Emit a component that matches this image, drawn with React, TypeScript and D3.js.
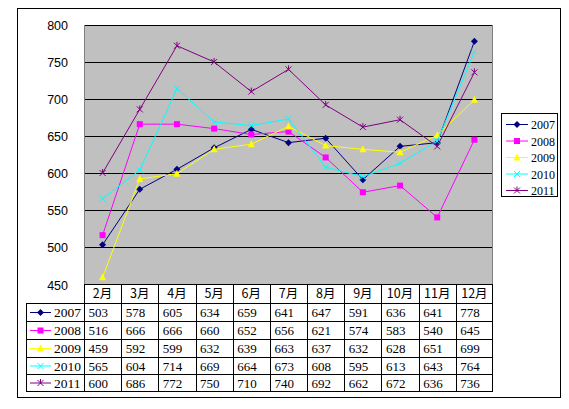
import React from "react";
import * as d3 from "d3";

const months = ["2月", "3月", "4月", "5月", "6月", "7月", "8月", "9月", "10月", "11月", "12月"];
const seriesNames = ["2007", "2008", "2009", "2010", "2011"];
const s2007 = [503, 578, 605, 634, 659, 641, 647, 591, 636, 641, 778];
const s2008 = [516, 666, 666, 660, 652, 656, 621, 574, 583, 540, 645];
const s2009 = [459, 592, 599, 632, 639, 663, 637, 632, 628, 651, 699];
const s2010 = [565, 604, 714, 669, 664, 673, 608, 595, 613, 643, 764];
const s2011 = [600, 686, 772, 750, 710, 740, 692, 662, 672, 636, 736];
const yTicks = [450, 500, 550, 600, 650, 700, 750, 800];

const seriesValues = [s2007, s2008, s2009, s2010, s2011];
const colors = ["#000080", "#FF00FF", "#FFFF00", "#00FFFF", "#800080"];
const markerTypes = ["diamond", "square", "triangle", "x", "star"];

const PL = 84, PR = 493, PT = 25, PB = 284;
const TL = 26;
const rowTops = [303, 321, 339, 357, 374, 391];

function Marker({ type, x, y, color }: { type: string; x: number; y: number; color: string }) {
  if (type === "diamond") {
    return <path d={`M${x},${y - 3.5}L${x + 3.5},${y}L${x},${y + 3.5}L${x - 3.5},${y}Z`} fill={color} />;
  }
  if (type === "square") {
    return <rect x={x - 3} y={y - 3} width={6} height={6} fill={color} />;
  }
  if (type === "triangle") {
    return <path d={`M${x},${y - 4}L${x + 3.5},${y + 3}L${x - 3.5},${y + 3}Z`} fill={color} />;
  }
  if (type === "x") {
    return (
      <path d={`M${x - 3},${y - 3}L${x + 3},${y + 3}M${x - 3},${y + 3}L${x + 3},${y - 3}`} stroke={color} strokeWidth={1} fill="none" />
    );
  }
  return (
    <path
      d={`M${x - 3},${y - 3}L${x + 3},${y + 3}M${x - 3},${y + 3}L${x + 3},${y - 3}M${x},${y - 4}L${x},${y + 1}`}
      stroke={color}
      strokeWidth={1}
      fill="none"
    />
  );
}

export default function App() {
  const x = d3.scaleBand<string>().domain(months).range([PL, PR]);
  const y = d3.scaleLinear().domain([450, 800]).range([PB, PT]);
  const line = d3
    .line<number>()
    .x((_, i) => (x(months[i]) as number) + x.bandwidth() / 2)
    .y((d) => y(d));
  const font = "'Liberation Serif', 'Noto Sans CJK SC', serif";
  const cjk = "'Noto Sans CJK SC', sans-serif";
  const sans = "'Liberation Sans', Arial, sans-serif";

  return (
    <svg width={569} height={409} style={{ position: "absolute", left: 0, top: 0 }}>
      <rect x={0} y={0} width={569} height={409} fill="#fff" />
      <rect x={17.5} y={8.5} width={543} height={389} fill="#fff" stroke="#000" strokeWidth={1} />
      <rect x={PL} y={PT} width={PR - PL} height={PB - PT} fill="#C0C0C0" />
      {yTicks.slice(1).map((t) => (
        <line key={t} x1={PL} x2={PR} y1={Math.round(y(t)) + 0.5} y2={Math.round(y(t)) + 0.5} stroke="#000" strokeWidth={1} />
      ))}
      <line x1={PL + 0.5} x2={PL + 0.5} y1={PT} y2={PB} stroke="#808080" />
      <line x1={PR - 0.5} x2={PR - 0.5} y1={PT} y2={PB} stroke="#808080" />
      {yTicks.map((t) => (
        <text key={t} x={68} y={y(t) + (t === 450 ? 6 : 4.5)} textAnchor="end" fontSize={12.5} fontFamily={sans} fill="#000">
          {t}
        </text>
      ))}
      {seriesValues.map((vals, si) => (
        <g key={si}>
          <path d={line(vals) || ""} fill="none" stroke={colors[si]} strokeWidth={1} />
          {vals.map((v, i) => (
            <Marker key={i} type={markerTypes[si]} x={(x(months[i]) as number) + x.bandwidth() / 2} y={y(v)} color={colors[si]} />
          ))}
        </g>
      ))}
      <g>
        <line x1={PL} x2={PR} y1={PB + 0.5} y2={PB + 0.5} stroke="#000" />
        {rowTops.map((ry, i) => (
          <line key={i} x1={TL} x2={PR} y1={ry + 0.5} y2={ry + 0.5} stroke="#000" />
        ))}
        <line x1={TL + 0.5} x2={TL + 0.5} y1={rowTops[0]} y2={rowTops[5]} stroke="#000" />
        {months.map((m) => (
          <line key={m} x1={Math.round(x(m) as number) + 0.5} x2={Math.round(x(m) as number) + 0.5} y1={PB} y2={rowTops[5]} stroke="#000" />
        ))}
        <line x1={PR - 0.5} x2={PR - 0.5} y1={PB} y2={rowTops[5]} stroke="#000" />
        {months.map((m) => (
          <text key={m} x={(x(m) as number) + x.bandwidth() / 2} y={298} textAnchor="middle" fontSize={12.5} fontFamily={cjk} fill="#000">
            {m}
          </text>
        ))}
        {seriesValues.map((vals, si) => {
          const cy = (rowTops[si] + rowTops[si + 1]) / 2;
          return (
            <g key={si}>
              <line x1={30} x2={51} y1={cy + 0.5} y2={cy + 0.5} stroke={colors[si]} />
              <Marker type={markerTypes[si]} x={40.5} y={cy + 0.5} color={colors[si]} />
              <text x={54} y={cy + 5} fontSize={13.5} fontFamily={font} fill="#000">
                {seriesNames[si]}
              </text>
              {vals.map((v, i) => (
                <text key={i} x={(x(months[i]) as number) + 4.5} y={cy + 5} fontSize={13} fontFamily={font} fill="#000">
                  {v}
                </text>
              ))}
            </g>
          );
        })}
      </g>
      <rect x={501.5} y={113.5} width={56} height={83} fill="#fff" stroke="#000" />
      {seriesNames.map((n, si) => {
        const cy = 124 + si * 16.5;
        return (
          <g key={n}>
            <line x1={506} x2={528} y1={cy + 0.5} y2={cy + 0.5} stroke={colors[si]} />
            <Marker type={markerTypes[si]} x={517} y={cy + 0.5} color={colors[si]} />
            <text x={531} y={cy + 5} fontSize={12} fontFamily={font} fill="#000">
              {n}
            </text>
          </g>
        );
      })}
    </svg>
  );
}
